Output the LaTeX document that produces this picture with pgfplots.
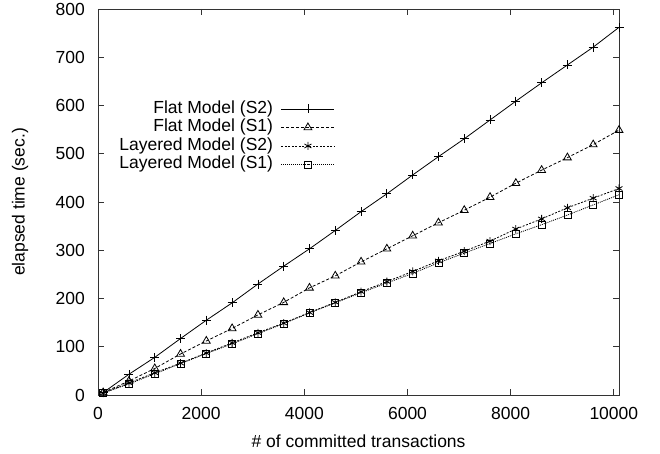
\documentclass[border=0pt]{standalone}
\usepackage{fontspec}
\setmainfont{Liberation Sans}
\usepackage{pgfplots}
\pgfplotsset{compat=1.18}
\usepackage{pgfplotstable}

% elapsed time (sec.) per number of committed transactions
\pgfplotstableread{
x     fs2  fs1  ls2  ls1
100   5    5    4    4
600   43   29   25   23
1100  78   55   46   44
1600  117  85   66   65
2100  155  112  87   86
2600  191  138  108  106
3100  230  166  129  127
3600  267  192  149  148
4100  303  222  171  170
4600  341  247  192  191
5100  380  276  214  212
5600  417  303  235  232
6100  456  330  256  252
6600  494  357  278  274
7100  531  383  298  294
7600  570  410  319  314
8100  609  439  344  334
8600  647  466  365  353
9100  684  492  388  373
9600  721  519  408  394
10100 762  549  428  415
}\timing

\newcommand\chartfont{\fontsize{17.5}{19}\selectfont}

\begin{document}
\begin{tikzpicture}
\path[use as bounding box] (-98pt,-58pt) rectangle (562pt,395pt);
\begin{axis}[
    at={(0pt,0pt)}, anchor=south west,
    scale only axis, width=521pt, height=386pt,
    xmin=0, xmax=10100, ymin=0, ymax=800,
    xtick={0,2000,...,10000}, ytick={0,100,...,800},
    scaled x ticks=false,
    /pgf/number format/1000 sep={},
    /pgf/number format/assume math mode=true,
    tick align=inside, major tick length=6pt,
    tick style={line width=0.8pt, black!80},
    axis line style={line width=0.9pt, black!80},
    tick label style={font=\chartfont},
    yticklabel style={inner sep=0pt, xshift=-13pt},
    xticklabel style={inner sep=0pt, anchor=center, yshift=-18.5pt},
    xlabel={\# of committed transactions},
    ylabel={elapsed time (sec.)},
    label style={font=\chartfont},
    xlabel style={at={(axis description cs:0.5,-0.1192)}, anchor=center},
    ylabel style={at={(axis description cs:-0.1497,0.5)}, anchor=center, rotate=0},
    clip=false,
    legend plot pos=right,
    legend cell align=right,
    legend style={draw=none, fill=none, font=\chartfont,
        at={(0.4607,0.7687)}, anchor=north east,
        nodes={inner sep=0pt, text height=13pt, text depth=4pt},
        row sep=1.5pt, column sep=8pt},
    legend image code/.code={
        \draw[mark repeat=2,mark phase=2,#1]
            plot coordinates {(0pt,0pt) (26.5pt,0pt) (53pt,0pt)};},
    every axis plot/.append style={line width=0.8pt, black},
]
\addplot[mark=+, mark size=4.5pt, mark options={solid}]
    table[x=x, y=fs2] {\timing};
\addlegendentry{Flat Model (S2)}
\addplot[dash pattern=on 3pt off 2pt, mark=triangle, mark size=4.5pt, mark options={solid}]
    table[x=x, y=fs1] {\timing};
\addlegendentry{Flat Model (S1)}
\addplot[dash pattern=on 2pt off 1.5pt, mark=asterisk, mark size=4pt, mark options={solid}]
    table[x=x, y=ls2] {\timing};
\addlegendentry{Layered Model (S2)}
\addplot[dash pattern=on 1pt off 1pt, mark=square, mark size=3.5pt, mark options={solid}]
    table[x=x, y=ls1] {\timing};
\addlegendentry{Layered Model (S1)}
\end{axis}
\end{tikzpicture}
\end{document}
